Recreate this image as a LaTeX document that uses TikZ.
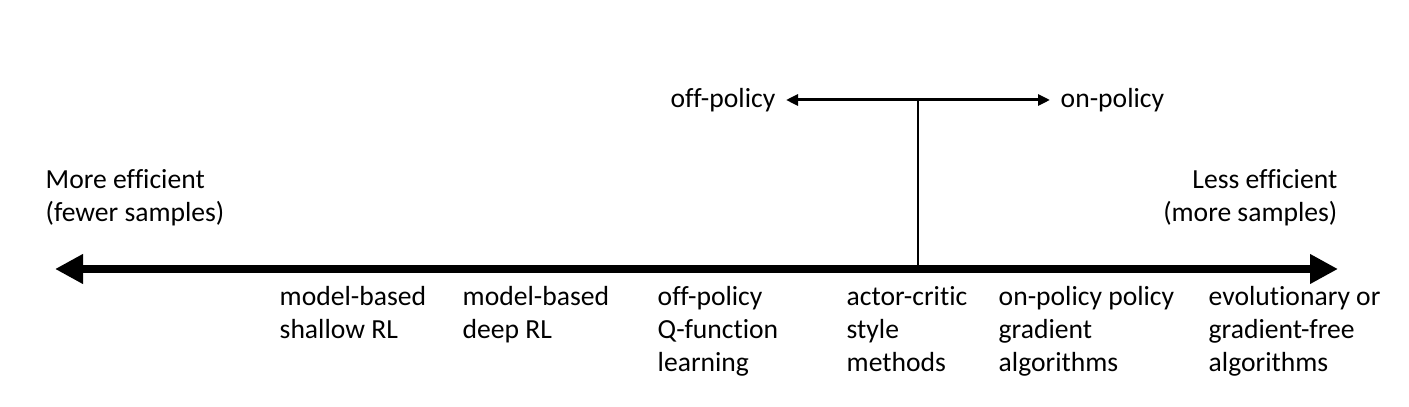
\documentclass[tikz,border=0pt]{standalone}
\usepackage{fontspec}
\setmainfont{Carlito}[Ligatures=NoCommon]
\usepackage{tikz}
\usetikzlibrary{arrows.meta,positioning}

\begin{document}
\begin{tikzpicture}[
  x=0.01cm, y=-0.01cm,
  every node/.style={font=\fontsize{7.85}{9.4}\selectfont},
  lbl/.style={inner sep=0pt, align=left, anchor=base west},
  rlbl/.style={inner sep=0pt, align=right, anchor=base east},
  axisarrow/.style={{Triangle[length=0.28cm,width=0.28cm]}-{Triangle[length=0.28cm,width=0.28cm]}, line width=0.08cm},
  polarrow/.style={{Triangle[length=0.12cm,width=0.11cm]}-{Triangle[length=0.12cm,width=0.11cm]}, line width=0.03cm},
  stem/.style={line width=0.02cm}
]
  \useasboundingbox (0,0) rectangle (1409,407);

  % Main axis: sample efficiency
  \coordinate (axisL) at (55,269);
  \coordinate (axisR) at (1338,269);
  \draw[axisarrow] (axisL) -- (axisR);

  % Axis end labels (base = last line)
  \node[lbl] (more) at (45,222) {More efficient\\(fewer samples)};
  \node[rlbl] (less) at (1338,222) {Less efficient\\(more samples)};

  % Off-policy / on-policy split
  \node[anchor=east, inner sep=0.1cm] (offp) at (786,100) {off-policy};
  \node[anchor=west, inner sep=0.1cm] (onp) at (1050,100) {on-policy};
  \draw[polarrow] (offp.east) -- coordinate[midway] (split) (onp.west);
  \draw[stem] (split) -- (split |- axisL);

  % Method families along the axis (base = last line)
  \node[lbl] (mbshallow) at (279,339) {model-based\\shallow RL};
  \node[lbl] (mbdeep) at (462,339) {model-based\\deep RL};
  \node[lbl] (qlearn) at (657,372) {off-policy\\Q-function\\learning};
  \node[lbl] (actcrit) at (846,372) {actor-critic\\style\\methods};
  \node[lbl] (pgrad) at (998,372) {on-policy policy\\gradient\\algorithms};
  \node[lbl] (evol) at (1208,372) {evolutionary or\\gradient-free\\algorithms};

\end{tikzpicture}
\end{document}
